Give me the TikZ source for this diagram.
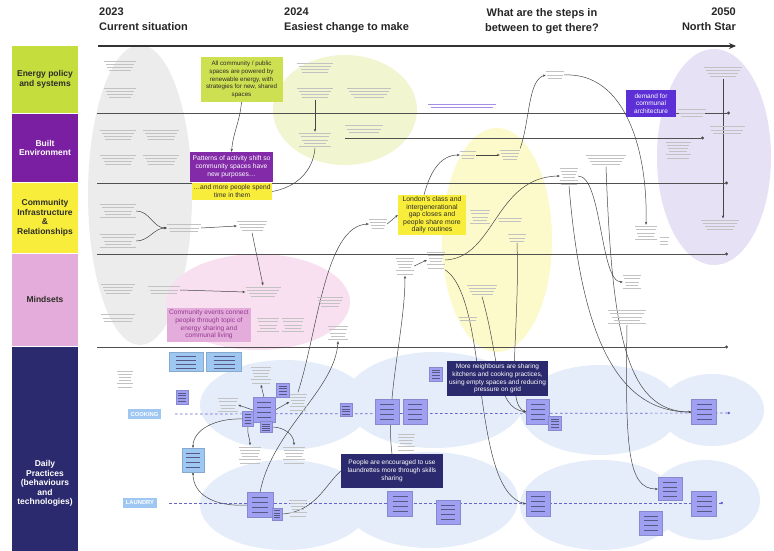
\documentclass[tikz,border=0pt]{standalone}
\usepackage{fontspec}
\setmainfont{Liberation Sans}
\usetikzlibrary{arrows.meta}
\pgfdeclarelayer{bg}
\pgfdeclarelayer{lines}
\pgfsetlayers{bg,lines,main}
\definecolor{limec}{RGB}{198,221,62}
\definecolor{purpc}{RGB}{123,31,162}
\definecolor{yelc}{RGB}{249,237,60}
\definecolor{pinkc}{RGB}{227,172,219}
\definecolor{navyc}{RGB}{44,42,110}
\definecolor{violc}{RGB}{92,48,214}
\definecolor{pinkt}{RGB}{150,55,145}
\definecolor{sqc}{RGB}{160,160,242}
\definecolor{lbc}{RGB}{158,200,242}
\definecolor{greyb}{RGB}{236,236,236}
\definecolor{limebl}{RGB}{241,246,208}
\definecolor{pinkbl}{RGB}{248,224,240}
\definecolor{yelbl}{RGB}{252,249,202}
\definecolor{lavbl}{RGB}{231,225,245}
\definecolor{bluebl}{RGB}{229,237,250}
\definecolor{lineg}{RGB}{80,80,80}
\definecolor{conng}{RGB}{70,70,70}
\definecolor{dashc}{RGB}{100,100,205}
\definecolor{txtd}{RGB}{45,45,40}
\newcommand\gt[6][gtl]{%
  \node[inner sep=0, minimum width=#5pt, minimum height={#6*3.2pt}] (#2) at (#3,#4) {};
  \foreach \i in {1,...,#6}{%
    \pgfmathsetmacro\hw{#5/2*(0.7+0.3*mod(\i*7,4)/3)}%
    \pgfmathsetmacro\yy{#4-#6*1.6+(\i-0.5)*3.2}%
    \draw[#1] (#3-\hw,\yy) -- (#3+\hw,\yy);
  }}
\newcommand\sqn[6][sq]{%
  \node[#1, minimum width=#5pt, minimum height=#6pt] (#2) at (#3,#4) {};
  \foreach \k in {1,...,4}{%
    \draw[sqline] (#3-#5*0.3, #4-#6/2+#6*\k/5) -- (#3+#5*0.3, #4-#6/2+#6*\k/5);
  }}
\begin{document}
\begin{tikzpicture}[x=1pt,y=-1pt,
  hdr/.style={inner sep=0, font=\fontsize{11}{15}\selectfont\bfseries, text=black!85},
  lane/.style={inner sep=0, minimum width=66pt, align=center, font=\fontsize{8.5}{9.5}\selectfont\bfseries},
  lanetext/.style={inner sep=0, align=center, font=\fontsize{8.5}{9.5}\selectfont\bfseries},
  hbox/.style={inner sep=1pt, align=center},
  gtl/.style={draw=gray!48, line width=0.9pt},
  gtp/.style={draw=violc!55, line width=0.6pt},
  sq/.style={fill=sqc, draw=sqc!85!black, line width=0.2pt, inner sep=0},
  lbsq/.style={fill=lbc, draw=lbc!85!black, line width=0.2pt, inner sep=0},
  sqline/.style={draw=sqc!55!black, line width=0.4pt},
  laneline/.style={draw=lineg, line width=0.9pt, -{Circle[length=3pt]}},
  dashline/.style={draw=dashc, line width=0.7pt, dash pattern=on 2.5pt off 2.5pt, -{Circle[length=2.5pt]}},
  conn/.style={draw=conng, line width=0.5pt, -{Stealth[length=3pt,width=2.4pt]}},
  plainc/.style={draw=conng, line width=0.5pt},
  tag/.style={inner sep=0, fill=lbc, minimum height=9.5pt, text=white, font=\fontsize{5.8}{6}\selectfont\bfseries}
]
\useasboundingbox (0,0) rectangle (774,551);
\begin{pgfonlayer}{bg}
\fill[white] (0,0) rectangle (774,551);
\fill[greyb] (140,195) ellipse [x radius=52pt, y radius=150pt];
\fill[limebl] (345,110) ellipse [x radius=72pt, y radius=55pt];
\fill[pinkbl] (258,302) ellipse [x radius=92pt, y radius=48pt];
\fill[yelbl] (497,240) ellipse [x radius=55pt, y radius=112pt];
\fill[lavbl] (714,157) ellipse [x radius=57pt, y radius=108pt];
\foreach \cx/\cy/\rx/\ry in {285/405/85/45, 435/400/90/48, 600/410/80/45, 712/410/52/36,
                             285/505/85/45, 430/500/88/48, 600/505/80/45, 705/500/55/40}
  \fill[bluebl] (\cx,\cy) ellipse [x radius=\rx pt, y radius=\ry pt];
\end{pgfonlayer}

% header
\node[hdr, anchor=north west, align=left] (h2023) at (99,8) {2023\\Current situation};
\node[hdr, anchor=north west, align=left] (h2024) at (284,8) {2024\\Easiest change to make};
\node[hdr, anchor=north east, align=center] (hsteps) at (599,8) {What are the steps in\\between to get there?};
\node[hdr, anchor=north east, align=right] (h2050) at (736,8) {2050\\North Star};
\coordinate (tls) at (98,46);
\coordinate (tle) at (736,46);
\draw[draw=black!80, line width=1.8pt, -{Stealth[length=7pt,width=6pt]}] (tls) -- (tle);

% lanes
\node[lane, fill=limec, minimum height=66.5pt, text=txtd] (lEnergy) at (45,79.3) {Energy policy\\and systems};
\node[lane, fill=purpc, minimum height=68.5pt, text=white] (lBuilt) at (45,147.8) {Built\\Environment};
\node[lane, fill=yelc, minimum height=69.5pt, text=txtd] (lComm) at (45,217.8) {Community\\Infrastructure\\\&\\Relationships};
\node[lane, fill=pinkc, minimum height=92.5pt, text=txtd] (lMind) at (45,299.8) {Mindsets};
\node[lane, fill=navyc, minimum height=204pt] (lDaily) at (45,449) {};
\node[lanetext, text=white] (tDaily) at (45,483.5) {Daily\\Practices\\(behaviours\\and\\technologies)};

% practice labels
\node[tag, minimum width=33pt] (cook) at (144.5,414) {COOKING};
\node[tag, minimum width=34pt] (laund) at (140,503) {LAUNDRY};

% grey text placeholders
\gt{e1}{120}{66}{32}{4}
\gt{e2}{120}{93}{32}{4}
\gt{e3}{315}{68}{36}{4}
\gt{e4}{315}{93}{36}{4}
\gt{e5}{369}{93}{44}{4}
\gt{e6}{555}{75}{18}{3}
\gt{e7}{723}{72}{38}{4}
\gt[gtp]{e8}{462}{106}{68}{2}
\gt{e9}{692}{113}{28}{3}
\gt{b1}{118}{135}{36}{4}
\gt{b2}{161}{135}{36}{4}
\gt{b3}{118}{160}{36}{4}
\gt{b4}{161}{160}{36}{4}
\gt{b5}{315}{140}{32}{5}
\gt{b6}{364}{129}{38}{3}
\gt{b7}{468}{155}{16}{3}
\gt{b8}{510}{155}{20}{4}
\gt{r2}{606}{160}{40}{4}
\gt{r3}{678}{150}{25}{6}
\gt{r4}{727}{130}{35}{3}
\gt{c1}{480}{217}{20}{5}
\gt{c2}{510}{220}{24}{2}
\gt{c3}{517}{238}{18}{3}
\gt{c4}{378}{224}{18}{4}
\gt{c5}{118}{211}{36}{5}
\gt{c6}{118}{241}{36}{5}
\gt{c7}{184}{228}{34}{3}
\gt{c8}{252}{226}{30}{4}
\gt{r1}{569}{176}{18}{6}
\gt{r5}{720}{225}{38}{4}
\gt{r6}{646}{233}{22}{5}
\gt{r6b}{664}{241}{9}{3}
\gt{m1}{405}{266}{18}{6}
\gt{m2}{436}{260}{18}{6}
\gt{m3}{482}{290}{30}{4}
\gt{m4}{164}{290}{32}{3}
\gt{m5}{263}{292}{35}{4}
\gt{m6}{268}{325}{22}{5}
\gt{m7}{293}{325}{22}{5}
\gt{m8}{330}{302}{26}{4}
\gt{m9}{338}{333}{20}{5}
\gt{m10}{118}{289}{34}{4}
\gt{m11}{118}{318}{34}{3}
\gt{m12}{468}{319}{18}{2}
\gt{r7}{632}{282}{18}{5}
\gt{r8}{627}{317}{38}{5}
\gt{d1}{125}{379}{16}{6}
\gt{d2}{261}{375}{20}{6}
\gt{d3}{228}{405}{20}{5}
\gt{d4}{298}{402}{17}{6}
\gt{d5}{250}{455}{22}{6}
\gt{d6}{294}{455}{22}{6}
\gt{d7}{298}{508}{18}{6}
\gt{d8}{406}{442}{17}{6}

% squares
\sqn[lbsq]{lb1}{186}{362}{34}{19}
\sqn[lbsq]{lb2}{224}{362}{35}{19}
\sqn{p1}{182}{397}{12}{14}
\sqn{p2}{283}{390}{13}{14}
\sqn{p3}{264}{410}{22}{25}
\sqn{p4}{248}{419}{11}{15}
\sqn{p5}{266}{427}{12}{11}
\sqn[lbsq]{p6}{193}{460}{22}{24}
\sqn{p7}{260}{505}{26}{25}
\sqn{p8}{277}{514}{10}{12}
\sqn{p9}{436}{374}{13}{14}
\sqn{p10}{346}{410}{12}{13}
\sqn{p11}{387}{412}{24}{25}
\sqn{p12}{415}{412}{24}{25}
\sqn{p13}{538}{412}{23}{25}
\sqn{p14}{555}{423}{13}{14}
\sqn{p15}{400}{504}{25}{25}
\sqn{p16}{448}{512}{24}{24}
\sqn{p17}{538}{504}{24}{25}
\sqn{p18}{704}{412}{25}{25}
\sqn{p19}{670}{489}{24}{23}
\sqn{p20}{704}{504}{25}{25}
\sqn{p21}{651}{523}{23}{24}

% highlighted boxes
\node[hbox, fill=limec!90!white, minimum width=82pt, minimum height=45pt, text=txtd, font=\fontsize{6.2}{7.7}\selectfont] (lime1) at (241.5,79.5) {All community / public\\spaces are powered by\\renewable energy, with\\strategies for new, shared\\spaces};
\node[hbox, fill=purpc!95!white, minimum width=83pt, minimum height=30pt, text=white, font=\fontsize{6.7}{7.8}\selectfont] (purp1) at (231.5,167) {Patterns of activity shift so\\community spaces have\\new purposes\ldots};
\node[hbox, fill=yelc, minimum width=80pt, minimum height=17pt, text=txtd, font=\fontsize{6.7}{7.8}\selectfont] (yel1) at (232,191.5) {\ldots and more people spend\\time in them};
\node[hbox, fill=yelc, minimum width=68pt, minimum height=40pt, text=txtd, font=\fontsize{6.9}{7.6}\selectfont] (yel2) at (432,215) {London's class and\\intergenerational\\gap closes and\\people share more\\daily routines};
\node[hbox, fill=violc, minimum width=50pt, minimum height=27pt, text=white, font=\fontsize{6.5}{7.3}\selectfont] (viol1) at (651,103.5) {demand for\\communal\\architecture};
\node[hbox, fill=pinkc, minimum width=84pt, minimum height=34pt, text=pinkt, font=\fontsize{6.6}{7.6}\selectfont] (pink1) at (209,324.5) {Community events connect\\people through topic of\\energy sharing and\\communal living};
\node[hbox, fill=navyc, minimum width=101pt, minimum height=35pt, text=white, font=\fontsize{6.5}{7.7}\selectfont] (navy1) at (497.5,378.5) {More neighbours are sharing\\kitchens and cooking practices,\\using empty spaces and reducing\\pressure on grid};
\node[hbox, fill=navyc, minimum width=102pt, minimum height=34pt, text=white, font=\fontsize{6.5}{7.7}\selectfont] (navy2) at (392,471) {People are encouraged to use\\laundrettes more through skills\\sharing};

\begin{pgfonlayer}{lines}
% lane separator lines
\foreach \n/\yy/\xe in {a/113/730, b/183/728, c/254/728, d/347/728}{
  \coordinate (ls\n) at (97,\yy);
  \coordinate (le\n) at (\xe,\yy);
  \draw[laneline] (ls\n) -- (le\n);
}
\coordinate (bls) at (345,138);
\coordinate (ble) at (704,138);
\draw[laneline] (bls) -- (ble);
% dashed practice lines
\coordinate (cookend) at (730,413);
\coordinate (laundend) at (723,503);
\draw[dashline] ([xshift=14pt]cook.east) -- (cookend);
\draw[dashline] ([xshift=12pt]laund.east) -- (laundend);
% connectors
\draw[conn] (lime1.south) to[out=-95,in=85] (purp1.north);
\draw[conn] (e4.south) -- (b5.north);
\draw[plainc] (b5.south) to[out=-95,in=10] (yel1.east);
\draw[conn] (c5.east) to[out=0,in=180] (c7.west);
\draw[conn] (c6.east) to[out=0,in=180] (c7.west);
\draw[conn] (c7.east) -- (c8.west);
\draw[conn] (c8.south) -- (m5.north);
\draw[conn] (m4.east) -- (m5.west);
\draw[conn] (c4.east) -- (yel2.west);
\draw[conn] ([xshift=-8pt]yel2.north) to[out=75,in=180] (b7.west);
\draw[conn] (b7.east) -- (b8.west);
\draw[conn] (b8.north east) .. controls (530,120) and (528,80) .. (e6.west);
\draw[conn] (e6.east) .. controls (625,72) and (648,150) .. (r6.north);
\draw[conn] (m1.east) -- (m2.west);
\draw[conn] (m2.east) .. controls (495,258) and (495,177) .. (r1.west);
\draw[conn] (m2.south east) .. controls (490,300) and (470,490) .. (p17.west);
\draw[conn] (m3.south) .. controls (500,360) and (495,408) .. (p13.west);
\draw[conn] (c3.south) .. controls (520,330) and (505,405) .. (p13.west);
\draw[conn] (r1.east) .. controls (602,176) and (600,282) .. (r7.west);
\draw[conn] (r1.south) .. controls (580,320) and (610,412) .. (p18.west);
\draw[conn] (r2.south) .. controls (612,330) and (625,412) .. (p18.west);
\draw[conn] (r8.south) .. controls (625,450) and (628,489) .. (p19.west);
\draw[conn] (e7.south) -- (e7.south |- r5.north);
\draw[conn] (p3.north) -- (d2.south);
\draw[conn] (p3.west) -- (d3.east);
\draw[conn] (p3.east) -- (d4.west);
\draw[conn] (p4.south) to[out=-100,in=90] (d5.north);
\draw[conn] (p5.east) to[out=0,in=90] (d6.north);
\draw[conn] (p4.west) .. controls (215,418) and (193,430) .. (p6.north);
\draw[conn] (p7.west) .. controls (215,507) and (193,495) .. (p6.south);
\draw[conn] (p7.north) .. controls (272,430) and (335,390) .. (m9.south);
\draw[conn] (d4.north) .. controls (318,330) and (325,226) .. (c4.west);
\draw[plainc] (p8.east) .. controls (315,512) and (325,485) .. (navy2.west);
\draw[conn] (navy2.north) .. controls (385,400) and (405,330) .. (m1.south);
\end{pgfonlayer}
\end{tikzpicture}
\end{document}
